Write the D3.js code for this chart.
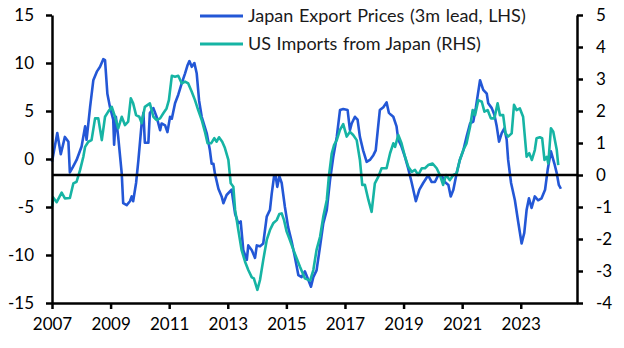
<!DOCTYPE html>
<html>
<head>
<meta charset="utf-8">
<script src="https://cdn.jsdelivr.net/npm/d3@7"></script>
<style>
  html, body { margin: 0; padding: 0; background: #fff; }
  svg { display: block; }
  text { font-family: Lato, "Open Sans", sans-serif; }
</style>
</head>
<body>
<svg id="chart" width="624" height="348"></svg>
<script>
// ---- Data (decimal years, values) ----
const seriesNames = ["Japan Export Prices (3m lead, LHS)", "US Imports from Japan (RHS)"];

const exportDates = [2007.00,2007.18,2007.30,2007.44,2007.56,2007.61,2007.72,2007.84,2008.01,2008.13,2008.18,2008.30,2008.41,2008.53,2008.64,2008.75,2008.81,2008.89,2008.98,2009.09,2009.12,2009.18,2009.26,2009.38,2009.43,2009.55,2009.66,2009.72,2009.77,2009.87,2009.95,2010.06,2010.12,2010.17,2010.29,2010.34,2010.46,2010.57,2010.69,2010.74,2010.86,2010.94,2011.03,2011.09,2011.20,2011.31,2011.43,2011.54,2011.63,2011.69,2011.77,2011.86,2011.94,2012.02,2012.11,2012.28,2012.39,2012.45,2012.51,2012.56,2012.68,2012.79,2012.85,2012.96,2013.13,2013.25,2013.36,2013.44,2013.53,2013.65,2013.70,2013.82,2013.93,2013.99,2014.10,2014.21,2014.33,2014.44,2014.50,2014.58,2014.63,2014.69,2014.76,2014.84,2014.95,2015.06,2015.18,2015.29,2015.41,2015.52,2015.63,2015.75,2015.84,2015.92,2016.03,2016.15,2016.26,2016.38,2016.49,2016.60,2016.72,2016.83,2016.94,2017.09,2017.17,2017.23,2017.34,2017.43,2017.51,2017.62,2017.74,2017.85,2017.97,2018.05,2018.12,2018.19,2018.31,2018.42,2018.50,2018.57,2018.65,2018.76,2018.82,2018.93,2019.05,2019.16,2019.28,2019.42,2019.54,2019.67,2019.84,2019.96,2020.07,2020.18,2020.30,2020.41,2020.53,2020.61,2020.70,2020.81,2020.92,2021.04,2021.15,2021.27,2021.38,2021.47,2021.61,2021.72,2021.84,2021.89,2022.01,2022.10,2022.18,2022.26,2022.35,2022.44,2022.52,2022.57,2022.67,2022.80,2022.92,2023.03,2023.12,2023.20,2023.28,2023.37,2023.48,2023.59,2023.71,2023.83,2023.92,2024.03,2024.15,2024.23,2024.30,2024.37];
const exportValues = [-0.3,2.7,0.5,2.3,1.8,-1.4,-0.8,-0.1,1.3,3.4,2.0,5.4,8.2,9.1,9.6,10.4,10.3,6.8,5.4,4.1,1.5,4.4,2.3,-1.5,-4.6,-4.8,-4.4,-3.9,-4.4,-2.5,-0.1,3.7,4.8,1.7,1.7,4.8,5.3,4.4,3.0,3.7,3.5,2.8,4.4,4.2,5.8,6.7,7.9,8.9,9.8,10.2,9.6,10.0,8.9,6.1,4.4,2.7,0.9,-0.5,-0.5,-1.5,-3.1,-3.9,-4.6,-3.75,-3.2,-5.7,-6.7,-6.5,-9.5,-10.5,-9.0,-9.5,-10.3,-9.0,-9.1,-8.8,-6.0,-5.3,-3.6,-1.8,-1.7,-2.9,-1.8,-2.5,-5.0,-7.1,-8.6,-10.2,-12.1,-12.3,-11.7,-12.6,-13.3,-12.3,-11.6,-9.1,-6.7,-5.3,-2.2,0.2,2.3,5.1,5.2,5.1,3.0,3.7,4.4,4.1,2.3,0.9,-0.3,-0.1,0.4,0.9,3.0,5.1,5.4,5.9,4.8,4.6,4.4,3.4,2.0,1.3,0.2,-1.0,-2.5,-4.4,-3.2,-2.5,-1.7,-2.4,-2.4,-1.7,-1.7,-2.4,-2.7,-3.9,-3.2,-1.5,-0.1,0.9,2.3,3.7,3.9,5.4,8.2,7.2,6.8,5.8,5.3,4.6,3.4,1.8,2.7,3.2,2.0,-0.1,-2.5,-4.3,-6.7,-8.8,-7.7,-5.3,-4.1,-5.1,-3.9,-4.3,-4.1,-3.2,-1.1,0.8,-0.5,-1.5,-2.7,-3.1];

const importDates = [2007.00,2007.04,2007.16,2007.33,2007.44,2007.61,2007.73,2007.84,2007.96,2008.07,2008.13,2008.24,2008.35,2008.47,2008.58,2008.70,2008.81,2008.92,2009.04,2009.15,2009.26,2009.38,2009.49,2009.60,2009.69,2009.77,2009.87,2009.98,2010.06,2010.17,2010.34,2010.46,2010.57,2010.69,2010.80,2010.91,2010.99,2011.09,2011.20,2011.31,2011.43,2011.54,2011.65,2011.77,2011.88,2011.99,2012.11,2012.22,2012.31,2012.43,2012.54,2012.62,2012.70,2012.81,2012.90,2013.02,2013.10,2013.19,2013.25,2013.36,2013.47,2013.59,2013.70,2013.82,2013.89,2014.01,2014.10,2014.21,2014.33,2014.44,2014.55,2014.67,2014.76,2014.84,2014.92,2015.01,2015.12,2015.24,2015.35,2015.46,2015.63,2015.81,2015.92,2016.03,2016.15,2016.26,2016.38,2016.45,2016.55,2016.63,2016.72,2016.83,2016.94,2017.06,2017.17,2017.28,2017.40,2017.51,2017.59,2017.68,2017.80,2017.91,2018.02,2018.14,2018.25,2018.42,2018.54,2018.65,2018.71,2018.82,2018.93,2019.05,2019.16,2019.28,2019.39,2019.50,2019.62,2019.73,2019.84,2019.99,2020.13,2020.24,2020.35,2020.45,2020.58,2020.70,2020.81,2020.92,2021.04,2021.15,2021.27,2021.36,2021.44,2021.55,2021.67,2021.76,2021.87,2021.98,2022.10,2022.21,2022.29,2022.40,2022.48,2022.57,2022.69,2022.77,2022.86,2022.97,2023.08,2023.16,2023.20,2023.29,2023.38,2023.48,2023.54,2023.65,2023.73,2023.81,2023.89,2023.94,2024.03,2024.11,2024.23,2024.28];
const importValues = [-1.0,-0.7,-0.85,-0.55,-0.73,-0.72,-0.26,-0.21,0.16,0.57,0.88,1.04,1.09,1.77,1.77,1.09,1.82,1.98,2.13,1.82,1.46,1.82,1.56,1.67,2.4,2.24,1.87,1.82,1.62,2.13,2.24,1.82,1.72,1.77,1.93,2.08,2.34,3.1,3.07,3.1,2.86,2.92,2.86,2.6,2.34,2.03,1.72,1.35,0.99,0.99,1.15,1.04,1.18,1.04,0.85,0.47,-0.26,-0.37,-1.09,-1.72,-2.34,-2.71,-2.97,-3.2,-3.23,-3.59,-3.28,-2.66,-2.03,-1.72,-1.51,-1.41,-1.22,-1.2,-1.41,-1.77,-2.03,-2.34,-2.6,-2.86,-3.23,-3.3,-2.97,-2.34,-1.93,-1.3,-0.78,-0.05,0.68,0.94,1.09,1.41,1.59,1.2,1.35,1.25,1.09,0.47,-0.31,-0.31,-0.78,-1.15,-0.26,-0.05,0.21,0.21,0.68,0.99,0.88,1.25,0.99,0.57,0.26,0.1,0.16,0.0,0.21,0.21,0.31,0.36,0.21,0.0,-0.31,0.0,-0.16,0.0,0.05,0.47,0.78,0.99,1.51,2.03,1.87,2.34,2.29,1.98,2.03,1.77,1.77,2.24,1.87,1.87,1.3,1.2,1.3,2.19,2.03,2.08,1.82,0.99,0.57,0.68,0.47,0.78,1.15,1.18,1.15,0.47,0.57,0.36,1.46,1.35,0.78,0.31];

const xTicks = [2007, 2009, 2011, 2013, 2015, 2017, 2019, 2021, 2023];
const leftTicks = [-15, -10, -5, 0, 5, 10, 15];
const rightTicks = [-4, -3, -2, -1, 0, 1, 2, 3, 4, 5];

// ---- Layout ----
const W = 624, H = 348;
const plot = { left: 52, right: 577, top: 15, bottom: 303 };
const colors = { exports: "#2357d6", imports: "#16b4a4" };

const svg = d3.select("#chart");

const x = d3.scaleLinear().domain([2007, 2024.92]).range([plot.left, plot.right]);
const yL = d3.scaleLinear().domain([-15, 15]).range([plot.bottom, plot.top]);
const yR = d3.scaleLinear().domain([-4, 5]).range([plot.bottom, plot.top]);

const fmt = d => String(d).replace("\u2212", "-");

const exportData = exportDates.map((d, i) => ({ t: d, v: exportValues[i] }));
const importData = importDates.map((d, i) => ({ t: d, v: importValues[i] }));

const lineL = d3.line().x(d => x(d.t)).y(d => yL(d.v));
const lineR = d3.line().x(d => x(d.t)).y(d => yR(d.v));

svg.append("path").datum(exportData)
  .attr("d", lineL).attr("fill", "none")
  .attr("stroke", colors.exports).attr("stroke-width", 2.6)
  .attr("stroke-linejoin", "round");

svg.append("path").datum(importData)
  .attr("d", lineR).attr("fill", "none")
  .attr("stroke", colors.imports).attr("stroke-width", 2.6)
  .attr("stroke-linejoin", "round");

// zero line (RHS zero)
svg.append("line")
  .attr("x1", plot.left).attr("x2", plot.right)
  .attr("y1", yR(0)).attr("y2", yR(0))
  .attr("stroke", "#000").attr("stroke-width", 2.5);

function styleAxis(g) {
  g.selectAll(".domain").attr("stroke", "#000").attr("stroke-width", 2.5);
  g.selectAll(".tick line").attr("stroke", "#000").attr("stroke-width", 2.5);
  g.selectAll(".tick text").attr("fill", "#000")
    .style("font-family", "Lato, 'Open Sans', sans-serif").style("font-size", "17px");
}

const gx = svg.append("g").attr("transform", `translate(0,${plot.bottom})`)
  .call(d3.axisBottom(x).tickValues(xTicks).tickFormat(d => String(d)).tickSize(6).tickPadding(9).tickSizeOuter(0));
styleAxis(gx);

const gl = svg.append("g").attr("transform", `translate(${plot.left},0)`)
  .call(d3.axisLeft(yL).tickValues(leftTicks).tickFormat(d => fmt(d)).tickSize(6).tickPadding(12).tickSizeOuter(0));
styleAxis(gl);

const gr = svg.append("g").attr("transform", `translate(${plot.right},0)`)
  .call(d3.axisRight(yR).tickValues(rightTicks).tickFormat(d => fmt(d)).tickSize(6).tickPadding(13).tickSizeOuter(0));
styleAxis(gr);

// legend
const legend = svg.append("g");
const legendItems = [
  { name: seriesNames[0], color: colors.exports, y: 16 },
  { name: seriesNames[1], color: colors.imports, y: 44 }
];
legendItems.forEach(it => {
  legend.append("line").attr("x1", 200).attr("x2", 243)
    .attr("y1", it.y).attr("y2", it.y)
    .attr("stroke", it.color).attr("stroke-width", 3);
  legend.append("text").attr("x", 248).attr("y", it.y)
    .attr("dy", "0.35em").attr("fill", "#1a1a1a")
    .style("font-size", "18px").style("word-spacing", "1px").text(it.name);
});
</script>
</body>
</html>
